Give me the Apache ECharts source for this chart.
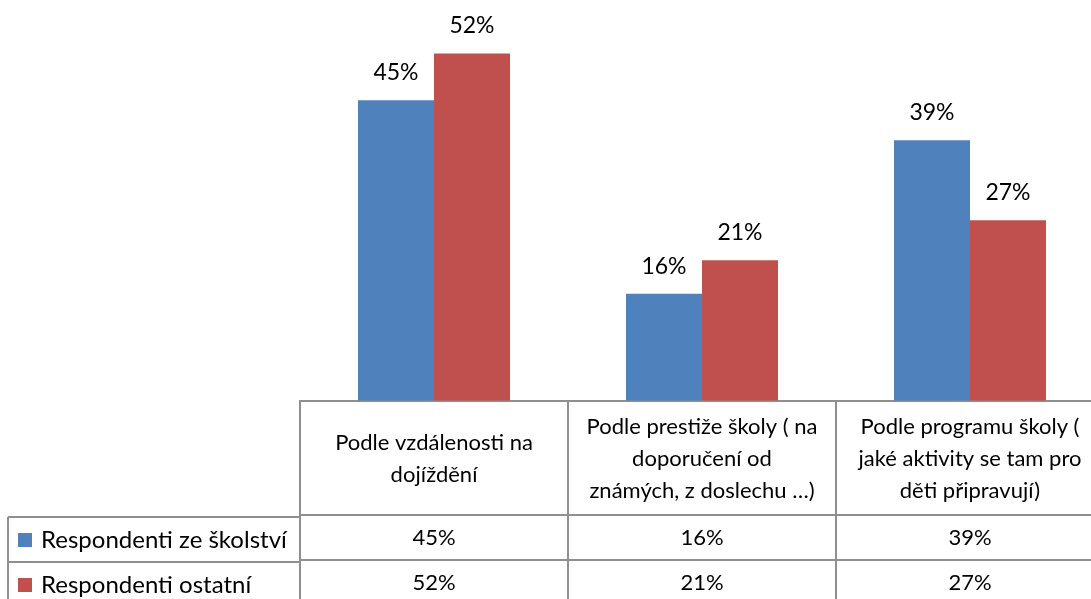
<!DOCTYPE html>
<html>
<head>
<meta charset="utf-8">
<script src="https://cdn.jsdelivr.net/npm/echarts@6/dist/echarts.min.js"></script>
<style>
html, body { margin: 0; padding: 0; background: #fff; overflow: hidden; }
#main { width: 1104px; height: 599px; }
</style>
</head>
<body>
<div id="main"></div>
<script>
// data
var categories = [
    'Podle vzdálenosti na\ndojíždění',
    'Podle prestiže školy ( na\ndoporučení od\nznámých, z doslechu …)',
    'Podle programu školy (\njaké aktivity se tam pro\nděti připravují)'
];
var seriesNames = ['Respondenti ze školství', 'Respondenti ostatní'];
var skolstvi = [45, 16, 39];
var ostatni = [52, 21, 27];

var FONT = 'Lato';
var lineCol = '#8f8f8f';
var gridLeft = 300, gridBottom = 196, headH = 114, rowH = 45;
var chart = echarts.init(document.getElementById('main'));

function pct(v) { return v + '%'; }

// axes that draw the data table below the plot
function tableAxis(offset, h, fmt, margin) {
    return {
        type: 'category',
        data: categories,
        position: 'bottom',
        offset: offset,
        axisLine: { show: true, lineStyle: { color: lineCol, width: 2 } },
        axisTick: { show: true, length: h, lineStyle: { color: lineCol, width: 2 } },
        axisLabel: {
            show: true, interval: 0, margin: margin,
            verticalAlign: 'middle', align: 'center',
            color: '#000', fontFamily: FONT, fontSize: 22, lineHeight: 32,
            formatter: fmt
        }
    };
}

function legendRow(name, top) {
    return {
        data: [name], orient: 'vertical', left: 18, top: top,
        padding: 0, icon: 'rect', itemWidth: 14, itemHeight: 14,
        textStyle: { fontFamily: FONT, fontSize: 24, color: '#000', padding: [0, 0, 0, 4] }
    };
}

var option = {
    animation: false,
    color: ['#4F81BD', '#C0504D'],
    grid: { left: gridLeft, right: 0, top: -2, bottom: gridBottom },
    legend: [legendRow(seriesNames[0], 528), legendRow(seriesNames[1], 573)],
    xAxis: [
        tableAxis(0, headH, function (v) { return v; }, headH / 2 + 1),
        tableAxis(headH, rowH, function (v, i) { return pct(skolstvi[i]); }, rowH / 2 + 1),
        tableAxis(headH + rowH, rowH, function (v, i) { return pct(ostatni[i]); }, rowH / 2 + 1)
    ],
    yAxis: {
        type: 'value', min: 0, max: 60, show: false,
        splitLine: { show: false }
    },
    series: [
        {
            name: seriesNames[0], type: 'bar', data: skolstvi,
            barWidth: 76, barGap: '0%',
            label: { show: true, position: 'top', distance: 16, formatter: function (p) { return pct(p.value); },
                fontFamily: FONT, fontSize: 23, color: '#000' }
        },
        {
            name: seriesNames[1], type: 'bar', data: ostatni,
            barWidth: 76, barGap: '0%',
            label: { show: true, position: 'top', distance: 16, formatter: function (p) { return pct(p.value); },
                fontFamily: FONT, fontSize: 23, color: '#000' }
        }
    ],
    // left part of the data table (legend cells)
    graphic: [
        { type: 'line', shape: { x1: 8, y1: 517, x2: gridLeft, y2: 517 }, style: { stroke: lineCol, lineWidth: 2 } },
        { type: 'line', shape: { x1: 8, y1: 562, x2: gridLeft, y2: 562 }, style: { stroke: lineCol, lineWidth: 2 } },
        { type: 'line', shape: { x1: 8, y1: 517, x2: 8, y2: 610 }, style: { stroke: lineCol, lineWidth: 2 } }
    ]
};

chart.setOption(option);
</script>
</body>
</html>
